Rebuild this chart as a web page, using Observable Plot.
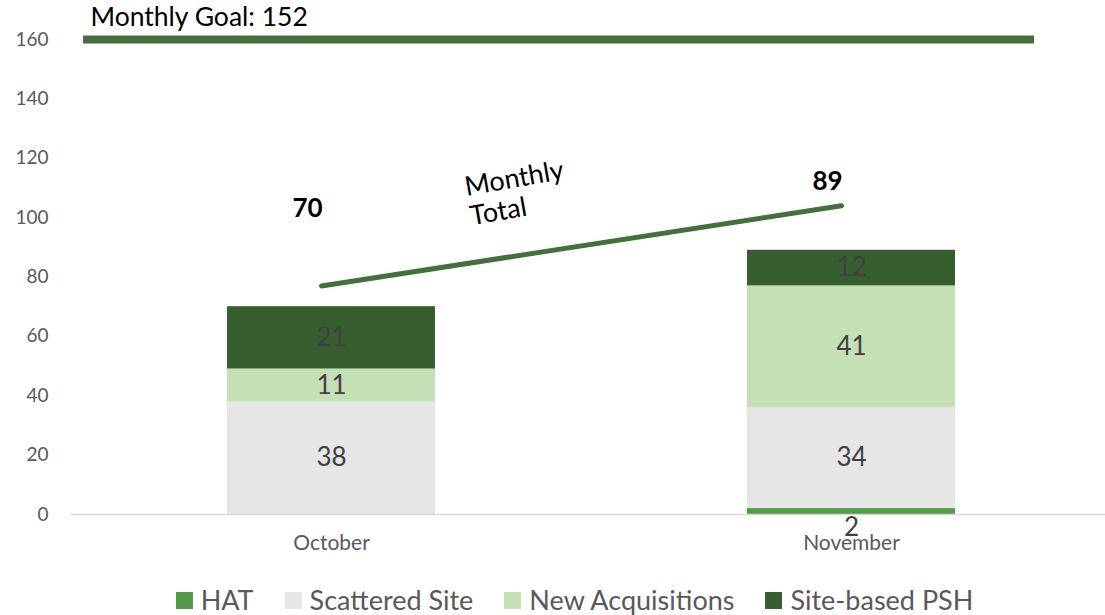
<!DOCTYPE html>
<html><head><meta charset="utf-8">
<script src="https://cdn.jsdelivr.net/npm/d3@7"></script>
<script src="https://cdn.jsdelivr.net/npm/@observablehq/plot@0.6"></script>
<style>
body{margin:0;background:#fff;font-family:Lato,sans-serif}
#legend{display:flex;justify-content:center;gap:31px;margin-top:25px;padding-left:44px;font-size:27px;color:#595959;line-height:30px}
#legend span.item{display:flex;align-items:center;gap:8px}
#legend span.sw{display:inline-block;width:17px;height:17px}
</style>
</head><body><div id="chart"></div><div id="legend"></div>
<script>
const months = ["October", "November"];
const series = ["HAT", "Scattered Site", "New Acquisitions", "Site-based PSH"];
const hat = [0, 2];
const scattered = [38, 34];
const newAcq = [11, 41];
const siteBased = [21, 12];
const totals = [70, 89];
const goal = 152;
const goalLineLevel = 160;
const trendValues = [77, 104];
const totalLabelLevels = [103, 112];
const yTicks = [0, 20, 40, 60, 80, 100, 120, 140, 160];
const colors = ["#559a4b", "#e6e6e6", "#c5e0b4", "#375e2e"];

const seriesValues = [hat, scattered, newAcq, siteBased];
const rows = [];
months.forEach((m, i) => series.forEach((s, j) => rows.push({month: m, series: s, value: seriesValues[j][i]})));
const trend = months.map((m, i) => ({month: m, v: trendValues[i]}));
const totalRows = months.map((m, i) => ({month: m, total: totals[i], level: totalLabelLevels[i]}));
const stackOpts = {x: "month", y: "value", z: "series", order: series};

const chart = Plot.plot({
  width: 1105, height: 560,
  marginLeft: 71, marginRight: 0, marginTop: 39, marginBottom: 46,
  style: {fontFamily: "Lato, sans-serif", background: "#fff"},
  x: {domain: months, range: [71, 1111], paddingInner: 0.6, paddingOuter: 0.3, label: null},
  y: {domain: [0, 160], label: null},
  color: {domain: series, range: colors},
  marks: [
    Plot.barY(rows, Plot.stackY({...stackOpts, fill: "series"})),
    Plot.ruleY([0], {stroke: "#d9d9d9", strokeWidth: 1.5}),
    Plot.text(rows, Plot.stackY({...stackOpts, text: d => (d.value > 0 && d.series !== "HAT") ? d.value : "", fill: "#404040", fontSize: 26})),
    Plot.text(rows, Plot.stackY({...stackOpts, text: d => (d.value > 0 && d.series === "HAT") ? d.value : "", fill: "#404040", fontSize: 26, dy: 16})),
    Plot.ruleY([goalLineLevel], {stroke: "#43703c", strokeWidth: 8, insetLeft: 12, insetRight: 71}),
    Plot.text([`Monthly Goal: ${goal}`], {frameAnchor: "top-left", dx: 19, dy: -22, lineAnchor: "middle", textAnchor: "start", fill: "#000", fontSize: 26.5}),
    Plot.line(trend, {x: "month", y: "v", stroke: "#43703c", strokeWidth: 5, dx: -10}),
    Plot.text(["Monthly\nTotal"], {x: () => "October", y: () => 105.5, dx: 136, textAnchor: "start", rotate: -10, fontSize: 27, fill: "#000", lineHeight: 1.1}),
    Plot.text(totalRows, {x: "month", y: "level", text: d => d.total, dx: -24, fontWeight: "bold", fontSize: 26, fill: "#000"}),
    Plot.axisY({ticks: yTicks, tickSize: 0, tickPadding: 23, fontSize: 19, color: "#595959"}),
    Plot.axisX({tickSize: 0, tickPadding: 21, fontSize: 21, color: "#595959"})
  ]
});
document.getElementById("chart").appendChild(chart);

const legend = document.getElementById("legend");
series.forEach((s, i) => {
  const it = document.createElement("span");
  it.className = "item";
  it.innerHTML = `<span class="sw" style="background:${colors[i]}"></span><span>${s}</span>`;
  legend.appendChild(it);
});
</script>
</body></html>
